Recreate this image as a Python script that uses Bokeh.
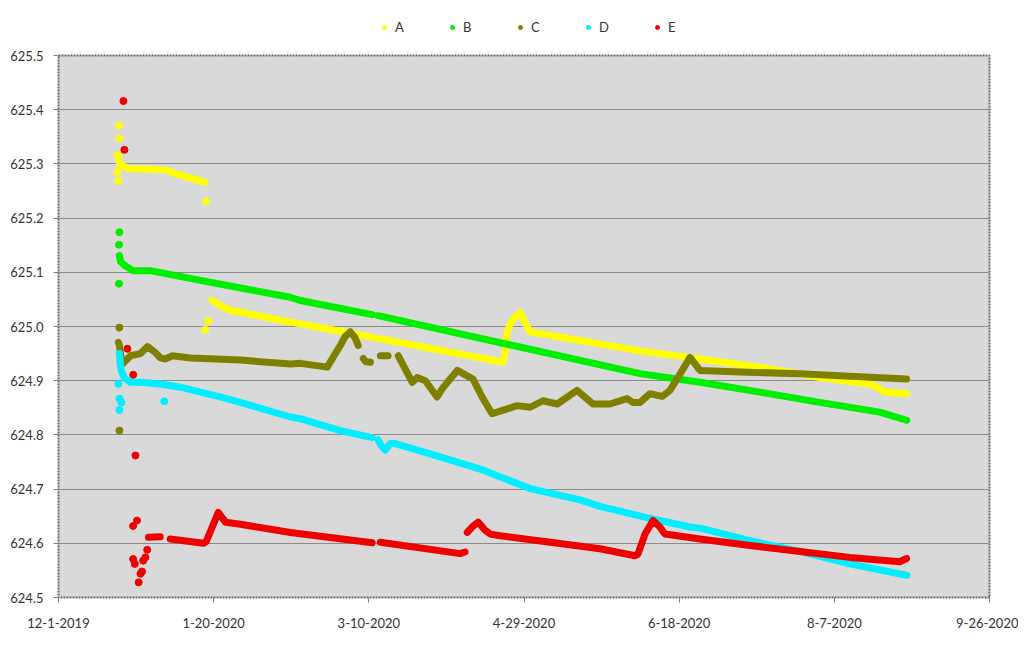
import numpy as np
import pandas as pd
from bokeh.plotting import figure
from bokeh.layouts import column
from bokeh.models import Range1d, FixedTicker, Legend, LegendItem, PrintfTickFormatter
from bokeh.embed import file_html
from bokeh.resources import INLINE

# ---------------- data ----------------
series_names = ["A", "B", "C", "D", "E"]
series_colors = ["#ffff00", "#00ee00", "#808000", "#00eeff", "#ee0000"]

tick_dates = ["2019-12-01", "2020-01-20", "2020-03-10", "2020-04-29", "2020-06-18", "2020-08-07", "2020-09-26"]
tick_labels = ["12-1-2019", "1-20-2020", "3-10-2020", "4-29-2020", "6-18-2020", "8-7-2020", "9-26-2020"]
y_ticks = [624.5, 624.6, 624.7, 624.8, 624.9, 625.0, 625.1, 625.2, 625.3, 625.4, 625.5]

# A
A_t = ["2019-12-20 07:00", "2019-12-20 15:00", "2019-12-21 14:00", "2019-12-23 05:00", "2019-12-24 05:00",
       "2020-01-04 10:00", "2020-01-07 17:00", "2020-01-17 07:00", None,
       "2020-01-19 14:00", "2020-01-23 02:00", "2020-01-25 10:00", "2020-02-13 17:00", "2020-02-16 22:00",
       "2020-03-11 02:00", None,
       "2020-03-13 00:00", "2020-04-22 07:00", "2020-04-23 02:00", "2020-04-23 14:00", "2020-04-25 00:00",
       "2020-04-27 17:00", "2020-04-30 00:00", "2020-05-01 00:00", "2020-06-05 10:00", "2020-06-24 17:00",
       "2020-07-14 00:00", "2020-08-02 07:00", "2020-08-18 10:00", "2020-08-21 14:00", "2020-08-23 07:00",
       "2020-08-30 07:00"]
A_v = [625.315, 625.300, 625.297, 625.292, 625.291, 625.289, 625.282, 625.266, None,
       625.048, 625.036, 625.030, 625.008, 625.005, 624.980, None,
       624.978, 624.934, 624.960, 624.990, 625.010, 625.026, 625.000, 624.990, 624.955, 624.940,
       624.925, 624.906, 624.894, 624.885, 624.879, 624.876]
A_pt_t = ["2019-12-20 12:00", "2019-12-20 15:00", "2019-12-20 07:00", "2019-12-20 00:00", "2019-12-20 00:00",
          "2020-01-17 14:00", "2020-01-17 07:00", "2020-01-18 07:00"]
A_pt_v = [625.371, 625.347, 625.269, 625.285, 625.316, 625.231, 624.994, 625.010]

# B
B_t = ["2019-12-20 15:00", "2019-12-21 00:00", "2019-12-22 05:00", "2019-12-25 00:00", "2019-12-30 14:00",
       "2020-01-15 17:00", "2020-02-13 17:00", "2020-02-16 22:00", "2020-03-11 02:00", None,
       "2020-03-13 00:00", "2020-06-05 10:00", "2020-06-24 17:00", "2020-07-14 00:00", "2020-08-02 07:00",
       "2020-08-21 14:00", "2020-08-30 07:00"]
B_v = [625.131, 625.120, 625.113, 625.103, 625.103, 625.085, 625.054, 625.048, 625.022, None,
       625.020, 624.913, 624.897, 624.879, 624.860, 624.842, 624.827]
B_pt_t = ["2019-12-20 15:00", "2019-12-20 12:00", "2019-12-20 12:00"]
B_pt_v = [625.174, 625.151, 625.079]

# C
C_t = ["2019-12-20 07:00", "2019-12-20 15:00", "2019-12-21 00:00", "2019-12-21 14:00", "2019-12-24 05:00",
       "2019-12-27 10:00", "2019-12-29 17:00", "2020-01-01 05:00", "2020-01-02 19:00", "2020-01-04 10:00",
       "2020-01-06 17:00", "2020-01-12 12:00", "2020-01-28 14:00", "2020-02-13 17:00", "2020-02-16 22:00",
       "2020-02-25 14:00", "2020-02-29 19:00", "2020-03-02 10:00", "2020-03-04 00:00", "2020-03-05 12:00",
       "2020-03-06 14:00", None,
       "2020-03-08 05:00", "2020-03-09 00:00", "2020-03-10 12:00", None,
       "2020-03-13 17:00", "2020-03-16 05:00", None,
       "2020-03-19 12:00", "2020-03-24 00:00", "2020-03-25 14:00", "2020-03-28 05:00", "2020-04-01 00:00",
       "2020-04-03 00:00", "2020-04-07 12:00", "2020-04-12 14:00", "2020-04-15 12:00", "2020-04-18 17:00",
       "2020-04-23 14:00", "2020-04-26 19:00", "2020-05-01 00:00", "2020-05-05 02:00", "2020-05-09 17:00",
       "2020-05-16 02:00", "2020-05-21 05:00", "2020-05-26 17:00", "2020-06-01 05:00", "2020-06-03 02:00",
       "2020-06-05 10:00", "2020-06-08 14:00", "2020-06-12 12:00", "2020-06-15 00:00", "2020-06-17 07:00",
       "2020-06-21 12:00", "2020-06-24 17:00", "2020-07-07 14:00", "2020-07-26 22:00", "2020-08-12 00:00",
       "2020-08-30 07:00"]
C_v = [624.971, 624.965, 624.950, 624.931, 624.946,
       624.950, 624.963, 624.952, 624.942, 624.940,
       624.946, 624.942, 624.938, 624.931, 624.932,
       624.925, 624.965, 624.982, 624.990, 624.980,
       624.965, None,
       624.941, 624.935, 624.934, None,
       624.946, 624.946, None,
       624.946, 624.897, 624.906, 624.900, 624.870,
       624.888, 624.919, 624.903, 624.870, 624.839,
       624.848, 624.854, 624.851, 624.863, 624.857,
       624.882, 624.857, 624.857, 624.867, 624.860,
       624.860, 624.876, 624.871, 624.882, 624.903,
       624.943, 624.919, 624.916, 624.913, 624.908,
       624.903]
C_pt_t = ["2019-12-20 15:00", "2019-12-20 15:00"]
C_pt_v = [624.998, 624.808]

# D
D_t = ["2019-12-20 15:00", "2019-12-20 23:00", "2019-12-21 05:00", "2019-12-22 05:00", "2019-12-24 05:00",
       "2019-12-27 10:00", "2020-01-02 19:00", "2020-01-09 07:00", "2020-01-15 17:00", "2020-01-22 05:00",
       "2020-01-28 14:00", "2020-02-13 17:00", "2020-02-16 22:00", "2020-02-29 19:00", "2020-03-11 02:00", None,
       "2020-03-13 00:00", "2020-03-14 00:00", "2020-03-15 07:00", "2020-03-16 22:00", "2020-03-18 12:00",
       "2020-03-29 19:00", "2020-04-14 22:00", "2020-05-01 00:00", "2020-05-17 02:00", "2020-05-23 12:00",
       "2020-06-08 14:00", "2020-06-21 12:00", "2020-06-24 17:00", "2020-07-10 19:00", "2020-07-26 22:00",
       "2020-08-12 00:00", "2020-08-30 07:00"]
D_v = [624.950, 624.930, 624.919, 624.905, 624.897,
       624.897, 624.894, 624.888, 624.879, 624.870,
       624.860, 624.833, 624.830, 624.808, 624.795, None,
       624.791, 624.780, 624.772, 624.784, 624.784,
       624.765, 624.737, 624.701, 624.680, 624.668,
       624.646, 624.630, 624.628, 624.605, 624.585,
       624.562, 624.541]
D_pt_t = ["2019-12-20 07:00", "2019-12-20 15:00", "2019-12-21 07:00", "2019-12-20 15:00", "2020-01-04 02:00"]
D_pt_v = [624.894, 624.867, 624.860, 624.846, 624.862]

# E
E_t = ["2019-12-30 00:00", "2020-01-02 19:00", None,
       "2020-01-06 00:00", "2020-01-16 17:00", "2020-01-17 14:00", "2020-01-21 12:00", "2020-01-23 19:00",
       "2020-01-28 14:00", "2020-02-13 17:00", "2020-03-04 00:00", "2020-03-11 02:00", None,
       "2020-03-13 17:00", "2020-04-08 10:00", "2020-04-10 00:00", None,
       "2020-04-10 17:00", "2020-04-12 07:00", "2020-04-14 05:00", "2020-04-16 12:00", "2020-04-18 02:00",
       "2020-04-21 07:00", "2020-05-07 10:00", "2020-05-23 12:00", "2020-06-03 19:00", "2020-06-04 17:00",
       "2020-06-07 00:00", "2020-06-09 14:00", "2020-06-11 19:00", "2020-06-13 10:00", "2020-06-24 17:00",
       "2020-07-10 19:00", "2020-07-26 22:00", "2020-08-12 00:00", "2020-08-28 02:00", "2020-08-30 07:00"]
E_v = [624.611, 624.612, None,
       624.608, 624.600, 624.603, 624.657, 624.639,
       624.635, 624.620, 624.606, 624.601, None,
       624.602, 624.581, 624.584, None,
       624.620, 624.630, 624.639, 624.624, 624.617,
       624.614, 624.602, 624.590, 624.577, 624.580,
       624.617, 624.642, 624.630, 624.617, 624.608,
       624.596, 624.585, 624.574, 624.566, 624.572]
E_pt_t = ["2019-12-21 22:00", "2019-12-22 06:00", "2019-12-23 05:00", "2019-12-25 02:00", "2019-12-25 19:00",
          "2019-12-25 01:00", "2019-12-26 07:00", "2019-12-25 01:00", "2019-12-25 14:00", "2019-12-26 20:00",
          "2019-12-27 10:00", "2019-12-27 22:00", "2019-12-28 07:00", "2019-12-29 00:00", "2019-12-29 14:00"]
E_pt_v = [625.416, 625.326, 624.959, 624.911, 624.762,
          624.632, 624.642, 624.571, 624.562, 624.528,
          624.544, 624.548, 624.568, 624.574, 624.588]

# ---------------- helpers ----------------
def ms(s):
    return pd.Timestamp(s).value / 1e6 if s else np.nan

def nums(vals):
    return [np.nan if v is None else v for v in vals]

FONT = "Lato"
TEXT = "#333333"
W = 1018

# ---------------- main plot ----------------
p = figure(width=W, height=591, output_backend="svg", toolbar_location=None,
           x_axis_type="datetime",
           x_range=Range1d(ms(tick_dates[0]), ms(tick_dates[-1])),
           y_range=Range1d(y_ticks[0], y_ticks[-1]),
           min_border_left=58, min_border_right=29, min_border_top=8, min_border_bottom=41)
p.background_fill_color = "#d9d9d9"
p.border_fill_color = "white"
p.outline_line_color = "#6a6a6a"
p.outline_line_dash = "2 1"
p.outline_line_width = 2

p.xgrid.visible = False
p.ygrid.grid_line_color = "#8c8c8c"
p.ygrid.grid_line_width = 1
p.ygrid.ticker = FixedTicker(ticks=y_ticks)

p.xaxis.ticker = FixedTicker(ticks=[ms(d) for d in tick_dates])
p.xaxis.major_label_overrides = {ms(d): lab for d, lab in zip(tick_dates, tick_labels)}
p.yaxis.ticker = FixedTicker(ticks=y_ticks)
p.yaxis.formatter = PrintfTickFormatter(format="%.1f")

for ax in (p.xaxis, p.yaxis):
    ax.axis_line_color = None
    ax.major_tick_line_color = "#808080"
    ax.major_tick_out = 5
    ax.major_tick_in = 0
    ax.minor_tick_line_color = None
    ax.major_label_text_font = FONT
    ax.major_label_text_font_size = "13px"
    ax.major_label_text_color = TEXT
p.xaxis.major_label_standoff = 15
p.yaxis.major_label_standoff = 10

all_series = [
    (A_t, A_v, A_pt_t, A_pt_v),
    (B_t, B_v, B_pt_t, B_pt_v),
    (C_t, C_v, C_pt_t, C_pt_v),
    (D_t, D_v, D_pt_t, D_pt_v),
    (E_t, E_v, E_pt_t, E_pt_v),
]

for name, color, (lt, lv, pt, pv) in zip(series_names, series_colors, all_series):
    p.line([ms(t) for t in lt], nums(lv), line_color=color, line_width=7,
           line_cap="round", line_join="round")
    p.scatter([ms(t) for t in pt], pv, marker="circle", size=7,
              fill_color=color, line_color=color)

# ---------------- legend strip above the plot ----------------
lg = figure(width=W, height=47, output_backend="svg", toolbar_location=None,
            x_range=Range1d(0, 1), y_range=Range1d(0, 1),
            min_border_left=0, min_border_right=0, min_border_top=0, min_border_bottom=0)
lg.axis.visible = False
lg.grid.visible = False
lg.outline_line_color = None
lg.background_fill_color = "white"
lg.border_fill_color = "white"

items = []
for name, color in zip(series_names, series_colors):
    # one off-range point per series so the legend can draw its dot
    r = lg.scatter(x=[-5], y=[-5], marker="circle", size=7, fill_color=color, line_color=color)
    items.append(LegendItem(label=name, renderers=[r]))

legend = Legend(items=items, orientation="horizontal", location=(321, 12),
                border_line_color=None, background_fill_alpha=0,
                label_text_font=FONT, label_text_font_size="13px", label_text_color=TEXT,
                glyph_width=10, glyph_height=14, label_standoff=6, spacing=43,
                label_width=9, label_height=14,
                padding=4, margin=0)
lg.add_layout(legend, "center")

layout = column(lg, p, spacing=0)
open("out.html", "w").write(file_html(layout, INLINE))
